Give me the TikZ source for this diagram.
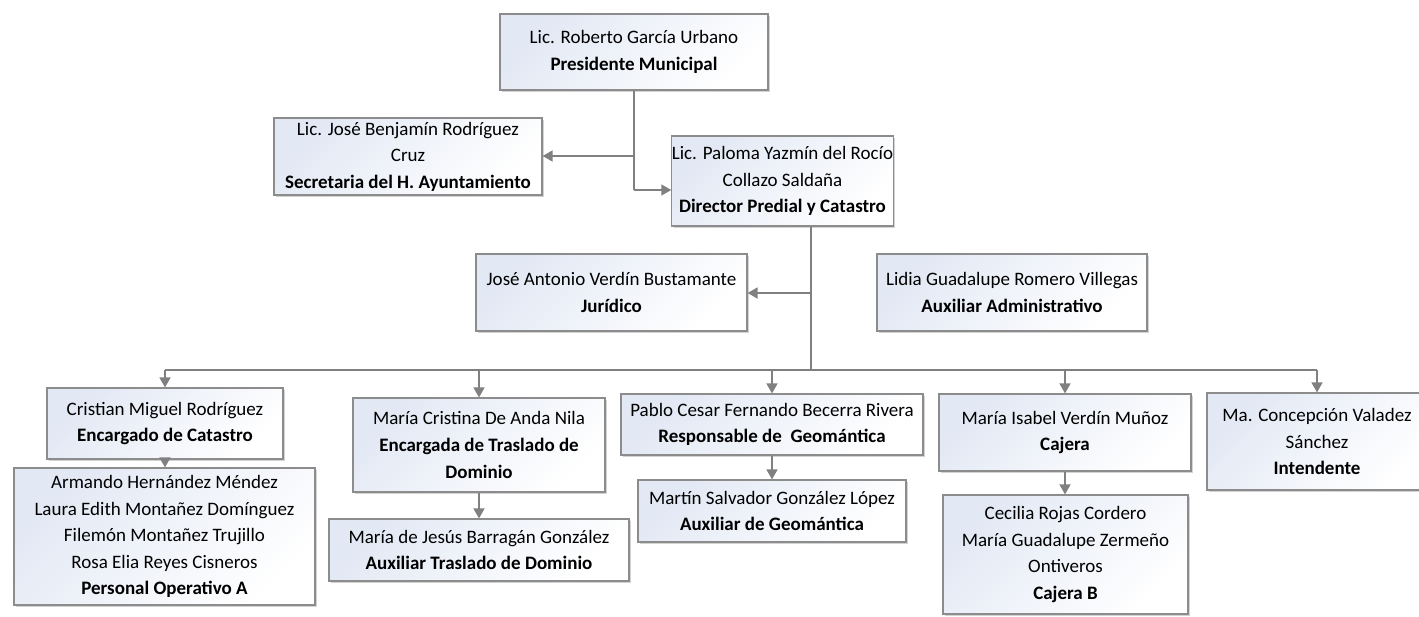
\documentclass[tikz,border=0pt]{standalone}
\usepackage{fontspec}
\setmainfont{Carlito}
\usepackage{tikz}
\usetikzlibrary{arrows.meta}
\usetikzlibrary{shadows}
\definecolor{boxline}{HTML}{8C8C8C}
\definecolor{boxfill}{HTML}{E2E8F4}
\definecolor{linkgray}{HTML}{808080}
\tikzset{person/.style={draw=boxline,line width=0.6pt,top color=white,bottom color=boxfill,
                        shading angle=-135,align=center,inner sep=0pt,
                        font=\fontsize{9.5}{13.3}\selectfont,
                        drop shadow={shadow xshift=1pt,shadow yshift=-1pt,opacity=0.35}}}
\tikzset{size/.style 2 args={minimum width=#1*0.5pt,minimum height=#2*0.5pt}}
\tikzset{link/.style={draw=linkgray,line width=0.8pt}}
\tikzset{arrow/.style={link,-{Triangle[length=5pt,width=5.5pt]}}}

\begin{document}
\begin{tikzpicture}[x=0.5pt,y=-0.5pt]
    \useasboundingbox (0,0) rectangle (1419,616);

    % top level
    \node[person,size={268}{76}] (pres) at (634,52)
        {Lic. Roberto García Urbano\\\textbf{Presidente Municipal}};
    \node[person,size={268}{77}] (sec) at (408,156.5)
        {Lic. José Benjamín Rodríguez\\Cruz\\\textbf{Secretaria del H. Ayuntamiento}};
    \node[person,size={221}{90}] (dir) at (782.5,181)
        {Lic. Paloma Yazmín del Rocío\\Collazo Saldaña\\\textbf{Director Predial y Catastro}};

    % staff of the director
    \node[person,size={271}{77}] (jur) at (611.5,292.5)
        {José Antonio Verdín Bustamante\\\textbf{Jurídico}};
    \node[person,size={270}{77}] (aux) at (1012,292.5)
        {Lidia Guadalupe Romero Villegas\\\textbf{Auxiliar Administrativo}};

    % areas
    \node[person,size={236}{71}] (cris) at (165,423.5)
        {Cristian Miguel Rodríguez\\\textbf{Encargado de Catastro}};
    \node[person,size={301}{137}] (pers) at (164.5,536.5)
        {Armando Hernández Méndez\\Laura Edith Montañez Domínguez\\Filemón Montañez Trujillo\\
         Rosa Elia Reyes Cisneros\\\textbf{Personal Operativo A}};
    \node[person,size={252}{94}] (mcri) at (479,445)
        {María Cristina De Anda Nila\\\textbf{Encargada de Traslado de}\\\textbf{Dominio}};
    \node[person,size={300}{62}] (mjes) at (479,550)
        {María de Jesús Barragán González\\\textbf{Auxiliar Traslado de Dominio}};
    \node[person,size={302}{61}] (pab) at (772,424.5)
        {Pablo Cesar Fernando Becerra Rivera\\\textbf{Responsable de~ Geomántica}};
    \node[person,size={268}{62}] (mart) at (772,511)
        {Martín Salvador González López\\\textbf{Auxiliar de Geomántica}};
    \node[person,size={252}{77}] (misa) at (1065,432.5)
        {María Isabel Verdín Muñoz\\\textbf{Cajera}};
    \node[person,size={245}{119}] (ceci) at (1065.5,554.5)
        {Cecilia Rojas Cordero\\María Guadalupe Zermeño\\Ontiveros\\\textbf{Cajera B}};
    \node[person,size={220}{97}] (mcon) at (1317,441.5)
        {Ma. Concepción Valadez\\Sánchez\\\textbf{Intendente}};

    % connectors at the top
    \coordinate (t1) at (634,156);
    \coordinate (t2) at (634,190);
    \draw[link] (pres.south) -- (t2);
    \draw[arrow] (t2) -- (t2 -| dir.west);
    \draw[arrow] (t1) -- (t1 -| sec.east);

    % connectors below the director
    \coordinate (d1) at (811,293);
    \coordinate (b) at (811,370);
    \draw[link] (d1 |- dir.south) -- (b);
    \draw[arrow] (d1) -- (d1 -| jur.east);
    \draw[link] (cris.north |- b) -- (mcon.north |- b);
    \foreach \n in {cris,mcri,pab,misa,mcon}{
        \draw[arrow] (\n.north |- b) -- (\n.north);
    }
    \foreach \a/\z in {cris/pers,mcri/mjes,pab/mart,misa/ceci}{
        \draw[arrow] (\a.south) -- (\a.south |- \z.north);
    }
\end{tikzpicture}
\end{document}
